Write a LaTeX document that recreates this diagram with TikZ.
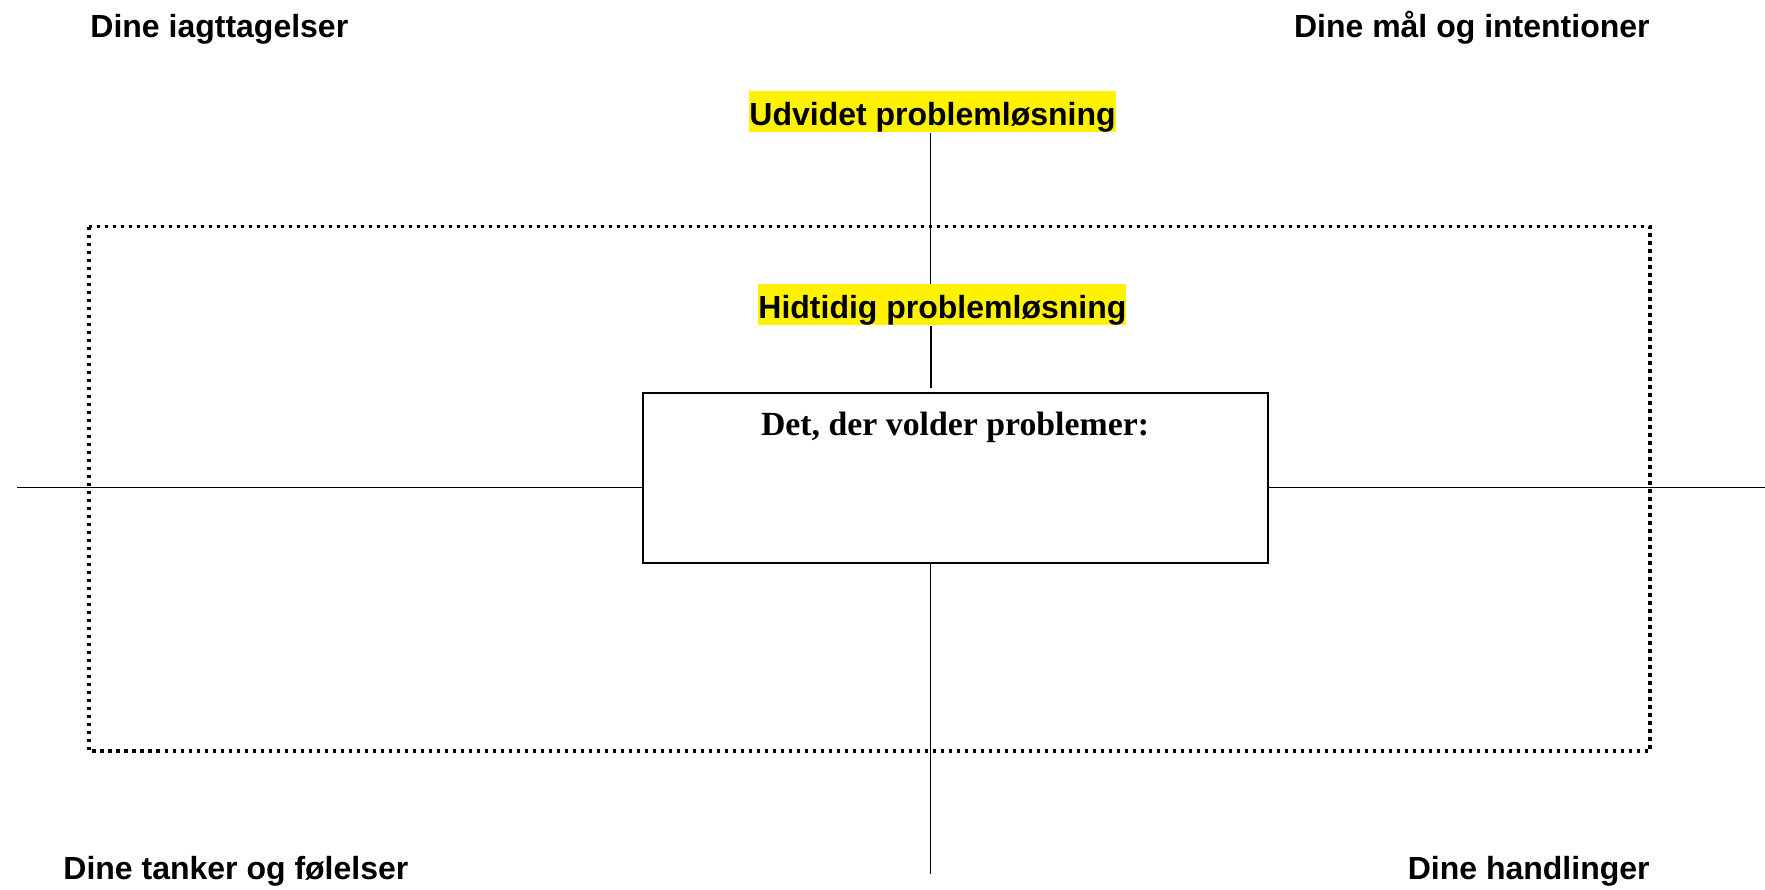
\documentclass[tikz,border=0pt]{standalone}
\usepackage{fontspec}
\setmainfont{Liberation Sans}
\newfontfamily\boxserif{Liberation Serif}
\begin{document}
\begin{tikzpicture}[x=0.5pt,y=-0.5pt,
  lbl/.style={inner sep=0pt, font=\bfseries\fontsize{16pt}{19pt}\selectfont},
  hilite/.style={lbl, fill=yellow, inner xsep=0pt, inner ysep=1.25pt,
    text height=15.6pt, text depth=2.3pt, anchor=north west},
  conn/.style={draw=black, line width=0.8pt},
  mainbox/.style={draw=black, line width=1pt, fill=white, inner sep=0pt,
    minimum width=312.5pt, minimum height=85.25pt, anchor=north west},
  dotframe/.style={draw=black, line width=1.6pt, dash pattern=on 1.6pt off 2.4pt}
]
\useasboundingbox (0,0) rectangle (1765,889);

% dotted frame
\coordinate (f1) at (89,226.5);
\coordinate (f2) at (1650,751);
\draw[dotframe] (f1) rectangle (f2);

% corner labels
\node[lbl, anchor=base west] (obs) at (90,37.3) {Dine iagttagelser};
\node[lbl, anchor=base east] (goal) at (1650,37.3) {Dine mål og intentioner};
\node[lbl, anchor=base west] (feel) at (63,879) {Dine tanker og følelser};
\node[lbl, anchor=base east] (act) at (1650,879) {Dine handlinger};

% highlighted labels
\node[hilite] (udv) at (749,91) {Udvidet problemløsning};
\node[hilite] (hid) at (758,284) {Hidtidig problemløsning};

% central box
\node[mainbox] (box) at (642,391.5) {};
\node[inner sep=0pt, anchor=base, font=\boxserif\bfseries\fontsize{16.9pt}{19pt}\selectfont] (det) at (955,435) {Det, der volder problemer:};

% connectors
\coordinate (vx) at (930.5,0);
\coordinate (boxtop) at (931,387.5);
\coordinate (vend) at (930.5,873.5);
\coordinate (hl) at (17,487.5);
\coordinate (hr) at (1765,487.5);
\draw[conn] (udv.south -| vx) -- (hid.north -| vx);
\draw[conn] (hid.south -| boxtop) -- (boxtop);
\draw[conn] (box.south -| vend) -- (vend);
\draw[conn] (hl) -- (hl -| box.west);
\draw[conn] (hr -| box.east) -- (hr);
\end{tikzpicture}
\end{document}
